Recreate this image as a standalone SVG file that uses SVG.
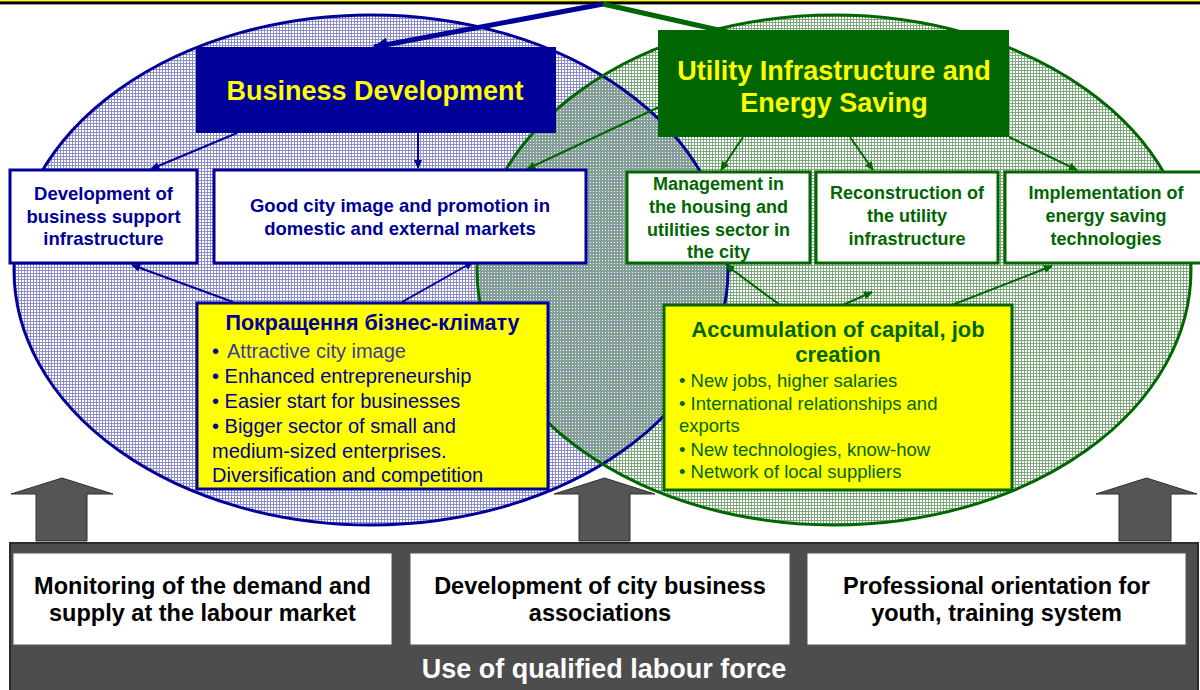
<svg xmlns="http://www.w3.org/2000/svg" width="1200" height="690" viewBox="0 0 1200 690">
  <defs>
    <style>
      text { font-family: "Liberation Sans", Arial, sans-serif; }
      .title { font-size: 27px; font-weight: bold; fill: #ffff00; text-anchor: middle; }
      .bl { font-size: 18.5px; font-weight: bold; fill: #000099; text-anchor: middle; }
      .gr { font-size: 18px; font-weight: bold; fill: #006600; text-anchor: middle; }
      .boxB { fill: #ffffff; stroke: #000099; stroke-width: 3; }
      .boxG { fill: #ffffff; stroke: #006600; stroke-width: 3; }
      .yelB { fill: #ffff00; stroke: #000099; stroke-width: 3; }
      .yelG { fill: #ffff00; stroke: #006600; stroke-width: 3; }
      .ybTitle { font-size: 21.5px; font-weight: bold; fill: #000099; text-anchor: middle; }
      .ygTitle { font-size: 22px; font-weight: bold; fill: #006600; text-anchor: middle; }
      .ybItem { font-size: 20px; fill: #000099; }
      .ygItem { font-size: 18.5px; fill: #006600; }
      .cB { stroke: #000099; stroke-width: 2; fill: none; marker-end: url(#headB); }
      .cG { stroke: #006600; stroke-width: 2; fill: none; marker-end: url(#headG); }
      .up { fill: #555555; stroke: #2e2e2e; stroke-width: 1; }
      .wbox { fill: #ffffff; stroke: #555555; stroke-width: 1; }
      .wtxt { font-size: 23.5px; font-weight: bold; fill: #000000; text-anchor: middle; }
    </style>
    <pattern id="meshBlue" width="3" height="3" patternUnits="userSpaceOnUse">
      <rect width="3" height="3" fill="#ffffff"/>
      <rect width="3" height="1" fill="#8e8ec8"/>
      <rect width="1" height="3" fill="#8e8ec8"/>
    </pattern>
    <pattern id="meshGreen" x="1" y="1" width="3" height="3" patternUnits="userSpaceOnUse">
      <rect width="3" height="1" fill="#7fa87f"/>
      <rect width="1" height="3" fill="#7fa87f"/>
    </pattern>
    <marker id="headB" viewBox="0 0 10 10" refX="9" refY="5" markerWidth="10" markerHeight="9" markerUnits="userSpaceOnUse" orient="auto">
      <path d="M0,0.5 L10,5 L0,9.5 Z" fill="#000099"/>
    </marker>
    <marker id="headG" viewBox="0 0 10 10" refX="9" refY="5" markerWidth="10" markerHeight="9" markerUnits="userSpaceOnUse" orient="auto">
      <path d="M0,0.5 L10,5 L0,9.5 Z" fill="#006600"/>
    </marker>
    <marker id="headBigB" viewBox="0 0 10 10" refX="9" refY="5" markerWidth="16" markerHeight="15" markerUnits="userSpaceOnUse" orient="auto">
      <path d="M0,0.5 L10,5 L0,9.5 Z" fill="#000099"/>
    </marker>
  </defs>

  <rect width="1200" height="690" fill="#ffffff"/>

  <!-- top rule -->
  <rect x="0" y="0" width="1200" height="1.4" fill="#ffff00"/>
  <rect x="0" y="1.4" width="1200" height="3" fill="#000000"/>

  <!-- the two overlapping domains -->
  <g id="domains">
    <ellipse cx="371" cy="270" rx="357" ry="255" fill="url(#meshBlue)"/>
    <ellipse cx="834" cy="270" rx="357" ry="255" fill="url(#meshGreen)"/>
    <ellipse cx="371" cy="270" rx="357" ry="255" fill="none" stroke="#000099" stroke-width="3"/>
    <ellipse cx="834" cy="270" rx="357" ry="255" fill="none" stroke="#006600" stroke-width="3"/>
  </g>

  <!-- connectors -->
  <g id="connectors">
    <path d="M603,4 L374,47" stroke="#000099" stroke-width="5" fill="none" marker-end="url(#headBigB)"/>
    <path d="M603,4 L745,36" stroke="#006600" stroke-width="5" fill="none"/>
    <path class="cB" d="M237,133 L151,169"/>
    <path class="cB" d="M418,133 L418,168"/>
    <path class="cB" d="M233,302 L132,265"/>
    <path class="cB" d="M402,302 L473,262"/>
    <path class="cG" d="M659,107 L527,169"/>
    <path class="cG" d="M743,137 L721,170"/>
    <path class="cG" d="M850,137 L873,170"/>
    <path class="cG" d="M1009,137 L1077,170"/>
    <path class="cG" d="M780,305 L726,265"/>
    <path class="cG" d="M843,305 L872,292"/>
    <path class="cG" d="M952,305 L1052,266"/>
  </g>

  <g id="business-development">
    <rect x="196" y="47" width="360" height="86" fill="#000099"/>
    <text class="title" x="375" y="100">Business Development</text>
  </g>

  <g id="utility-infrastructure">
    <rect x="658" y="30" width="351" height="107" fill="#006600"/>
    <text class="title" x="834" y="80">Utility Infrastructure and</text>
    <text class="title" x="834" y="112">Energy Saving</text>
  </g>

  <g id="support-infrastructure">
    <rect class="boxB" x="10" y="170" width="187" height="93"/>
    <text class="bl" x="103.5" y="200">Development of</text>
    <text class="bl" x="103.5" y="223">business support</text>
    <text class="bl" x="103.5" y="245">infrastructure</text>
  </g>

  <g id="city-image">
    <rect class="boxB" x="214" y="170" width="372" height="93"/>
    <text class="bl" x="400" y="212">Good city image and promotion in</text>
    <text class="bl" x="400" y="235">domestic and external markets</text>
  </g>

  <g id="housing-management">
    <rect class="boxG" x="627" y="172" width="183" height="91"/>
    <text class="gr" x="718.5" y="190">Management in</text>
    <text class="gr" x="718.5" y="213">the housing and</text>
    <text class="gr" x="718.5" y="236">utilities sector in</text>
    <text class="gr" x="718.5" y="258">the city</text>
  </g>

  <g id="utility-reconstruction">
    <rect class="boxG" x="816" y="172" width="182" height="91"/>
    <text class="gr" x="907" y="199">Reconstruction of</text>
    <text class="gr" x="907" y="222">the utility</text>
    <text class="gr" x="907" y="245">infrastructure</text>
  </g>

  <g id="energy-saving">
    <rect class="boxG" x="1005" y="172" width="200" height="91"/>
    <text class="gr" x="1106" y="199">Implementation of</text>
    <text class="gr" x="1106" y="222">energy saving</text>
    <text class="gr" x="1106" y="245">technologies</text>
  </g>

  <g id="business-climate">
    <rect class="yelB" x="197" y="303" width="351" height="186"/>
    <text class="ybTitle" x="372.5" y="330">Покращення бізнес-клімату</text>
    <text class="ybItem" x="212" y="358">•<tspan dx="8" fill="#3a3aa0">Attractive city image</tspan></text>
    <text class="ybItem" x="212" y="383">• Enhanced entrepreneurship</text>
    <text class="ybItem" x="212" y="408">• Easier start for businesses</text>
    <text class="ybItem" x="212" y="433">• Bigger sector of small and</text>
    <text class="ybItem" x="212" y="458">medium-sized enterprises.</text>
    <text class="ybItem" x="212" y="482">Diversification and competition</text>
  </g>

  <g id="capital-jobs">
    <rect class="yelG" x="664" y="305" width="348" height="185"/>
    <text class="ygTitle" x="838" y="337">Accumulation of capital, job</text>
    <text class="ygTitle" x="838" y="362">creation</text>
    <text class="ygItem" x="679" y="387">• New jobs, higher salaries</text>
    <text class="ygItem" x="679" y="410">• International relationships and</text>
    <text class="ygItem" x="679" y="432">exports</text>
    <text class="ygItem" x="679" y="456">• New technologies, know-how</text>
    <text class="ygItem" x="679" y="478">• Network of local suppliers</text>
  </g>

  <!-- upward arrows from the labour base -->
  <g id="uplift">
    <polygon class="up" points="62,478 113,494 87,494 87,541 36,541 36,494 11,494"/>
    <polygon class="up" points="604.5,478 655,494 630,494 630,541 579,541 579,494 554,494"/>
    <polygon class="up" points="1146.5,478 1197,494 1171,494 1171,541 1119,541 1119,494 1096,494"/>
  </g>

  <g id="labour-force">
    <rect x="10" y="543" width="1188" height="150" fill="#4d4d4d" stroke="#2b2b2b" stroke-width="2"/>
    <text x="604" y="678" font-size="27" font-weight="bold" fill="#ffffff" text-anchor="middle">Use of qualified labour force</text>
  </g>

  <g id="labour-monitoring">
    <rect class="wbox" x="13" y="553" width="379" height="92"/>
    <text class="wtxt" x="202.5" y="594">Monitoring of the demand and</text>
    <text class="wtxt" x="202.5" y="621">supply at the labour market</text>
  </g>

  <g id="business-associations">
    <rect class="wbox" x="410" y="553" width="380" height="92"/>
    <text class="wtxt" x="600" y="594">Development of city business</text>
    <text class="wtxt" x="600" y="621">associations</text>
  </g>

  <g id="youth-training">
    <rect class="wbox" x="807" y="553" width="379" height="92"/>
    <text class="wtxt" x="996.5" y="594">Professional orientation for</text>
    <text class="wtxt" x="996.5" y="621">youth, training system</text>
  </g>
</svg>
